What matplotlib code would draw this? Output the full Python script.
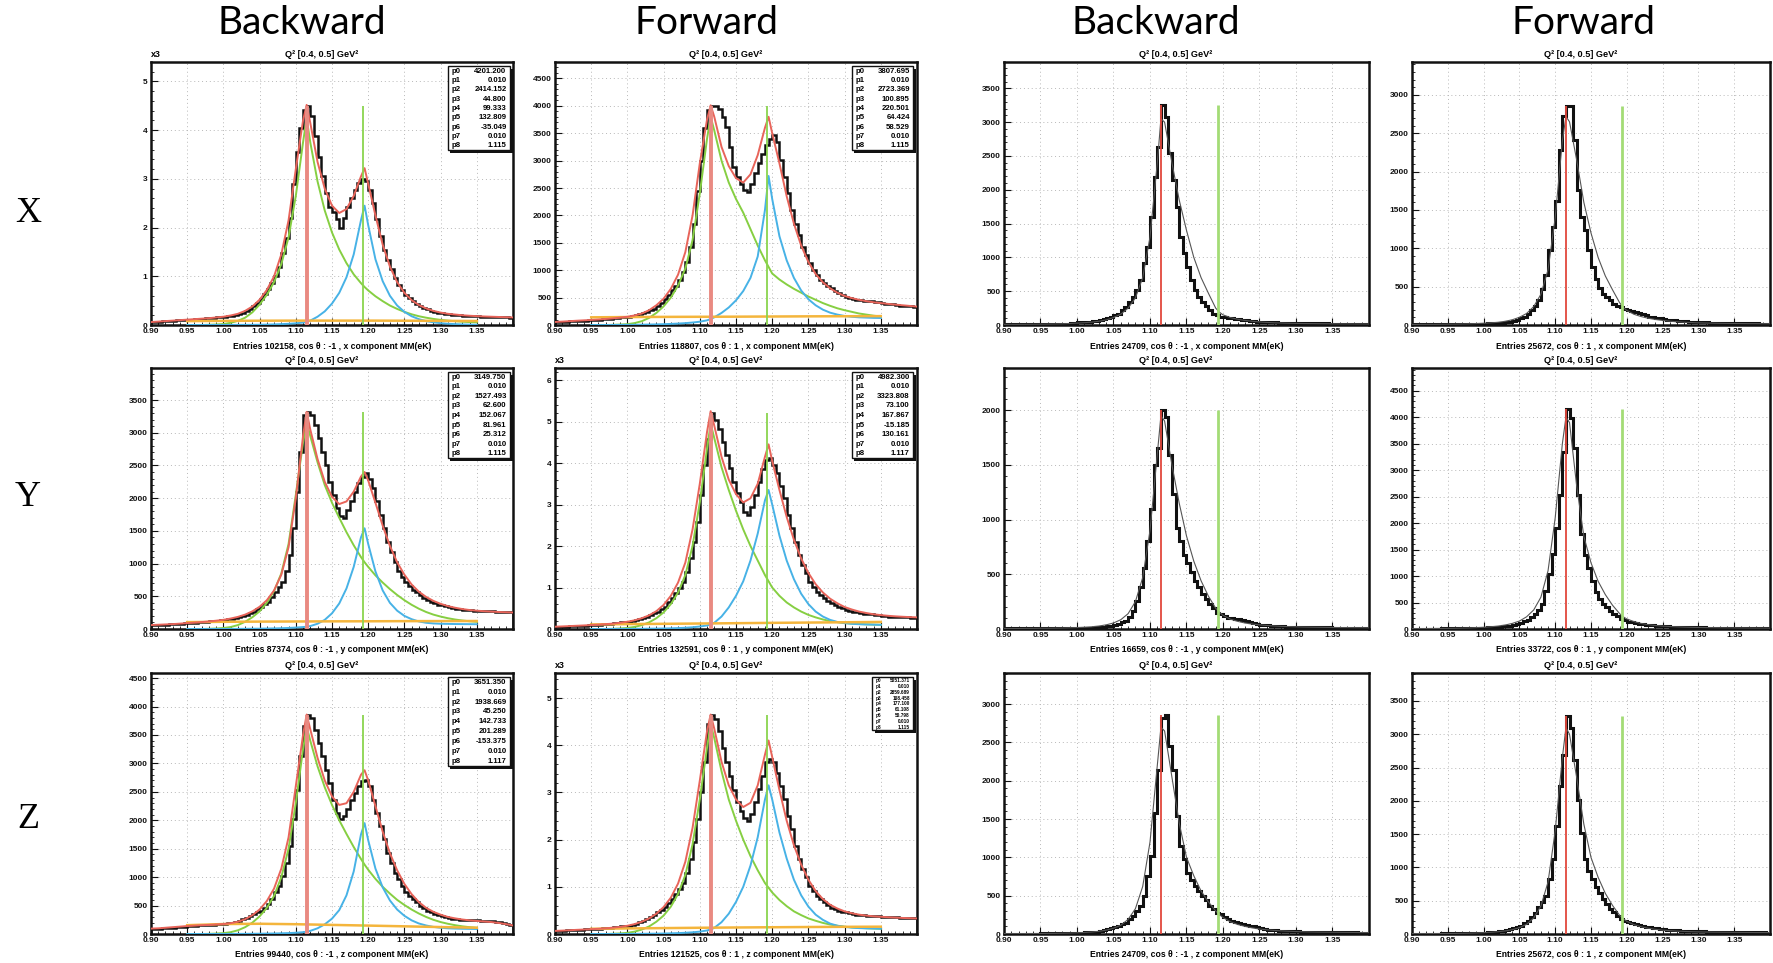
import numpy as np
import matplotlib
matplotlib.use("Agg")
import matplotlib.pyplot as plt
from matplotlib.patches import Rectangle
from matplotlib.ticker import MultipleLocator, FixedLocator, FuncFormatter

# ---------------------------------------------------------------- data
BIN_EDGES = np.round(0.9 + 0.005 * np.arange(101), 4)
FIT_X = [0.95, 0.96, 0.97, 0.98, 0.99, 1.00, 1.01, 1.02, 1.03, 1.04, 1.05, 1.06, 1.07, 1.08, 1.09, 1.10, 1.11,
         1.115, 1.12, 1.13, 1.14, 1.15, 1.16, 1.17, 1.18, 1.19, 1.195,
         1.20, 1.21, 1.22, 1.23, 1.24, 1.25, 1.26, 1.27, 1.28, 1.29, 1.30, 1.31, 1.32, 1.33, 1.34, 1.35]
RED_X = [0.90, 0.91, 0.92, 0.93, 0.94] + FIT_X + [1.36, 1.37, 1.38, 1.39, 1.40]
BKG_X = [0.95, 1.00, 1.05, 1.10, 1.15, 1.20, 1.25, 1.30, 1.35]
LAMBDA_M = 1.1157
SIGMA_M = 1.1926

COL_TITLES = ["Backward", "Forward", "Backward", "Forward"]
ROW_TITLES = ["X", "Y", "Z"]
PANEL_TITLE = "Q² [0.4, 0.5] GeV²"

# ---- row X
H11 = [60, 65, 70, 75, 80, 85, 90, 95, 100, 105,
       108, 112, 118, 122, 128, 135, 140, 148, 155, 162,
       170, 178, 188, 200, 220, 250, 290, 330, 380, 450,
       540, 630, 730, 860, 1000, 1200, 1470, 1780, 2200, 2900,
       3550, 4050, 4420, 4500, 4300, 3880, 3450, 3050, 2700, 2430,
       2320, 2180, 2000, 2200, 2420, 2600, 2780, 2920, 2990, 2960,
       2780, 2500, 2170, 1820, 1540, 1340, 1140, 970, 830, 720,
       620, 550, 490, 440, 390, 350, 320, 295, 270, 250,
       240, 230, 220, 210, 205, 200, 195, 190, 185, 180,
       175, 172, 170, 168, 165, 163, 160, 158, 155, 152]
RED11 = [60, 70, 80, 90, 100,
         110, 120, 130, 140, 155, 170, 195, 230, 290, 380, 520, 720, 1000, 1450, 2150, 3200, 4200,
         4520, 4150, 3350, 2800, 2450, 2300, 2380, 2650, 3050, 3220,
         2900, 2250, 1650, 1200, 880, 660, 510, 410, 340, 290, 255, 230, 215, 200, 190, 182,
         175, 170, 165, 160, 155]
GREEN11 = [0, 0, 0, 5, 10, 20, 45, 85, 150, 260, 420, 620, 880, 1250, 1800, 2650, 3750,
           4250, 3750, 2950, 2350, 1900, 1550, 1270, 1040, 860, 780,
           710, 590, 490, 400, 330, 270, 220, 180, 150, 125, 105, 90, 78, 68, 60, 55]
BLUE11 = [0, 0, 0, 1, 1, 2, 2, 3, 3, 4, 5, 8, 12, 18, 25, 35, 50,
          60, 90, 170, 280, 440, 660, 980, 1450, 2150, 2450,
          2050, 1350, 900, 600, 400, 270, 180, 120, 80, 55, 38, 26, 18, 12, 8, 5]
BKG11 = [80, 85, 88, 90, 90, 90, 88, 85, 82]
P11 = ["4201.200", "0.010", "2414.152", "44.800", "99.333", "132.809", "-35.049", "0.010", "1.115"]

H12 = [55, 58, 60, 62, 65, 68, 72, 76, 80, 85,
       90, 95, 100, 105, 110, 118, 125, 132, 140, 148,
       155, 165, 178, 192, 210, 235, 265, 300, 345, 400,
       470, 545, 630, 720, 830, 970, 1150, 1430, 1850, 2450,
       3000, 3600, 3920, 4000, 4000, 3950, 3800, 3620, 3250, 2890,
       2700, 2580, 2460, 2430, 2580, 2770, 2950, 3130, 3280, 3400,
       3460, 3340, 3010, 2700, 2400, 2100, 1850, 1640, 1430, 1280,
       1125, 1010, 910, 830, 760, 710, 670, 625, 580, 550,
       520, 500, 480, 465, 455, 445, 435, 430, 425, 420,
       400, 390, 385, 375, 365, 355, 350, 345, 340, 335]
RED12 = [55, 62, 70, 78, 85,
         92, 100, 110, 120, 135, 150, 175, 210, 270, 360, 480, 660, 920, 1330, 2000, 2950, 3750,
         4010, 3800, 3250, 2900, 2680, 2600, 2750, 3100, 3600, 3800,
         3500, 2950, 2350, 1850, 1450, 1150, 930, 780, 670, 590, 530, 490, 460, 435, 415, 400,
         385, 372, 360, 348, 335]
GREEN12 = [0, 0, 0, 3, 8, 15, 35, 70, 130, 220, 340, 500, 720, 1030, 1550, 2400, 3400,
           3800, 3550, 3000, 2600, 2300, 2050, 1750, 1450, 1180, 1060,
           940, 830, 740, 660, 590, 520, 460, 400, 350, 305, 270, 240, 210, 190, 170, 155]
BLUE12 = [0, 0, 0, 1, 2, 3, 4, 6, 8, 11, 15, 20, 26, 34, 45, 60, 85,
          110, 140, 220, 320, 450, 620, 860, 1250, 2100, 2720,
          2300, 1620, 1180, 860, 630, 470, 360, 280, 225, 190, 165, 150, 140, 135, 130, 128]
BKG12 = [140, 145, 148, 150, 152, 155, 158, 160, 162]
P12 = ["3807.695", "0.010", "2723.369", "100.895", "220.501", "64.424", "58.529", "0.010", "1.115"]

H13 = [10, 10, 10, 10, 12, 12, 12, 12, 12, 12,
       14, 14, 15, 15, 16, 18, 20, 22, 25, 30,
       38, 42, 45, 50, 55, 60, 70, 85, 105, 125,
       150, 170, 220, 270, 345, 420, 520, 665, 910, 1160,
       1600, 2190, 2640, 3250, 3080, 2540, 2140, 1750, 1300, 1060,
       860, 665, 520, 420, 345, 280, 220, 170, 150, 125,
       118, 110, 102, 95, 85, 75, 68, 60, 55, 50,
       47, 44, 42, 40, 37, 35, 33, 31, 30, 30,
       28, 27, 26, 25, 25, 24, 24, 23, 23, 22,
       22, 21, 21, 20, 20, 20, 19, 19, 18, 18]
THIN13 = [10, 10, 10, 11, 12,
          13, 14, 16, 18, 22, 28, 34, 42, 55, 75, 110, 160, 250, 400, 700, 1300, 2400,
          3050, 3000, 2400, 1850, 1400, 1000, 700, 470, 250, 190,
          150, 110, 85, 68, 55, 45, 38, 33, 29, 26, 24, 22, 21, 20, 19, 18,
          17, 17, 16, 16, 15]

H14 = [8, 8, 8, 8, 8, 9, 9, 9, 10, 10,
       10, 11, 11, 12, 12, 13, 13, 14, 15, 16,
       18, 20, 22, 25, 28, 32, 38, 45, 55, 70,
       95, 110, 140, 190, 250, 330, 470, 650, 980, 1280,
       1620, 2280, 2720, 2860, 2860, 2410, 1760, 1410, 1240, 980,
       760, 600, 480, 410, 360, 320, 280, 250, 230, 215,
       200, 185, 170, 155, 140, 125, 110, 100, 90, 85,
       75, 70, 65, 60, 55, 52, 48, 45, 42, 40,
       38, 36, 34, 32, 30, 29, 28, 27, 26, 25,
       24, 23, 22, 21, 21, 20, 20, 19, 19, 18]
THIN14 = [8, 8, 9, 9, 10,
          11, 12, 14, 16, 19, 23, 28, 35, 48, 68, 100, 150, 240, 400, 720, 1400, 2400,
          2720, 2650, 2150, 1600, 1200, 880, 640, 460, 290, 230,
          190, 140, 110, 88, 72, 60, 50, 42, 36, 32, 28, 26, 24, 22, 21, 20,
          19, 18, 18, 17, 17]

# ---- row Y
H21 = [55, 58, 60, 63, 66, 70, 73, 77, 80, 85,
       90, 94, 98, 102, 106, 110, 115, 120, 125, 132,
       140, 150, 160, 172, 186, 200, 218, 240, 265, 300,
       340, 380, 420, 490, 570, 640, 720, 880, 1130, 1540,
       2100, 2710, 3270, 3320, 3270, 3120, 2915, 2710, 2510, 2250,
       2050, 1845, 1720, 1700, 1820, 1950, 2100, 2230, 2330, 2380,
       2300, 2150, 1950, 1740, 1540, 1335, 1180, 1030, 880, 800,
       720, 660, 600, 560, 520, 480, 445, 415, 390, 370,
       360, 345, 330, 320, 310, 300, 295, 290, 285, 280,
       278, 275, 272, 270, 268, 266, 264, 262, 260, 258]
RED21 = [60, 65, 70, 75, 82,
         90, 98, 106, 115, 127, 140, 160, 185, 220, 270, 340, 440, 590, 830, 1250, 2000, 2950,
         3320, 3050, 2600, 2250, 2020, 1910, 1950, 2100, 2330, 2400,
         2270, 1930, 1580, 1270, 1020, 830, 680, 570, 490, 430, 385, 350, 325, 305, 290, 280,
         272, 266, 260, 256, 252]
GREEN21 = [0, 0, 0, 3, 7, 15, 30, 60, 110, 180, 270, 400, 580, 850, 1300, 2050, 2850,
           3150, 2950, 2550, 2200, 1930, 1700, 1480, 1280, 1100, 1020,
           950, 820, 710, 610, 520, 440, 370, 310, 260, 220, 190, 165, 145, 130, 118, 110]
BLUE21 = [0, 0, 0, 0, 1, 1, 2, 2, 3, 4, 5, 7, 9, 12, 16, 22, 30,
          35, 45, 80, 140, 240, 390, 620, 950, 1400, 1540,
          1300, 880, 590, 400, 280, 200, 150, 115, 95, 85, 80, 78, 76, 75, 74, 73]
BKG21 = [105, 110, 113, 115, 117, 118, 120, 121, 122]
P21 = ["3149.750", "0.010", "1527.493", "62.600", "152.067", "81.961", "25.312", "0.010", "1.115"]

H22 = [50, 53, 56, 60, 63, 67, 72, 77, 82, 88,
       95, 100, 106, 112, 120, 128, 137, 147, 158, 168,
       178, 195, 215, 235, 258, 290, 330, 375, 420, 480,
       540, 640, 740, 860, 980, 1140, 1380, 1700, 2100, 2590,
       3230, 3950, 4590, 5200, 5030, 4830, 4510, 4190, 3870, 3550,
       3270, 3070, 2830, 2750, 2950, 3230, 3550, 3850, 4080, 4110,
       3950, 3750, 3450, 3150, 2750, 2430, 2100, 1780, 1540, 1340,
       1140, 1020, 900, 820, 740, 680, 620, 580, 540, 500,
       460, 440, 420, 400, 380, 370, 360, 350, 340, 330,
       320, 310, 300, 295, 290, 285, 280, 278, 276, 274]
RED22 = [55, 62, 70, 78, 86,
         95, 105, 117, 130, 150, 175, 210, 260, 330, 430, 580, 800, 1120, 1600, 2400, 3500, 4750,
         5250, 4900, 4150, 3600, 3250, 3050, 3150, 3500, 4150, 4450,
         4050, 3350, 2700, 2150, 1700, 1350, 1080, 880, 730, 620, 530, 470, 420, 385, 355, 335,
         318, 305, 295, 287, 280]
GREEN22 = [0, 0, 0, 5, 12, 25, 50, 95, 160, 260, 400, 600, 880, 1300, 2000, 3050, 4350,
           4950, 4600, 3900, 3350, 2850, 2400, 2000, 1650, 1300, 1150,
           1000, 800, 640, 520, 420, 340, 280, 230, 190, 165, 145, 130, 120, 112, 106, 100]
BLUE22 = [0, 0, 1, 1, 2, 3, 4, 5, 7, 9, 12, 16, 22, 30, 42, 60, 85,
          110, 150, 300, 520, 800, 1150, 1650, 2300, 3100, 3350,
          3000, 2250, 1650, 1200, 850, 600, 420, 300, 220, 170, 140, 125, 115, 110, 105, 100]
BKG22 = [110, 118, 125, 132, 140, 148, 155, 162, 170]
P22 = ["4982.300", "0.010", "3323.808", "73.100", "167.867", "-15.185", "130.161", "0.010", "1.117"]

H23 = [5, 5, 5, 5, 5, 5, 5, 5, 5, 5,
       5, 6, 6, 6, 6, 7, 7, 7, 8, 8,
       9, 10, 11, 12, 13, 15, 17, 20, 25, 30,
       40, 50, 62, 75, 110, 165, 260, 380, 560, 800,
       1100, 1500, 1650, 2000, 1940, 1590, 1230, 925, 800, 680,
       600, 520, 440, 380, 320, 270, 230, 190, 150, 135,
       120, 105, 100, 95, 90, 80, 70, 60, 52, 45,
       40, 36, 33, 30, 28, 26, 24, 22, 21, 20,
       19, 18, 17, 17, 16, 16, 15, 15, 14, 14,
       13, 13, 12, 12, 12, 11, 11, 11, 10, 10]
THIN23 = [5, 5, 5, 6, 6,
          7, 7, 8, 9, 11, 13, 16, 20, 27, 38, 55, 85, 140, 250, 470, 900, 1600,
          1950, 1900, 1500, 1150, 850, 620, 440, 300, 190, 155,
          125, 90, 70, 55, 45, 38, 32, 28, 24, 22, 20, 18, 17, 16, 15, 14,
          13, 13, 12, 12, 11]

H24 = [8, 8, 8, 8, 8, 9, 9, 9, 10, 10,
       11, 11, 12, 12, 13, 14, 15, 17, 20, 25,
       28, 30, 33, 37, 42, 48, 55, 65, 80, 100,
       120, 150, 175, 220, 280, 360, 470, 720, 1030, 1410,
       1910, 2540, 3350, 4150, 3980, 3420, 2540, 1790, 1400, 1160,
       900, 700, 565, 480, 410, 345, 280, 240, 190, 165,
       140, 125, 112, 100, 90, 82, 75, 68, 63, 58,
       54, 50, 47, 44, 42, 40, 38, 36, 34, 32,
       30, 29, 28, 27, 26, 25, 24, 23, 22, 21,
       21, 20, 20, 19, 19, 18, 18, 17, 17, 16]
THIN24 = [8, 8, 9, 10, 11,
          12, 14, 17, 20, 26, 33, 42, 55, 75, 105, 150, 230, 360, 600, 1100, 2100, 3500,
          4000, 3900, 2700, 1750, 1250, 900, 650, 450, 290, 230,
          190, 140, 105, 82, 66, 55, 47, 41, 36, 32, 29, 27, 25, 23, 22, 21,
          20, 19, 18, 18, 17]

# ---- row Z
H31 = [88, 92, 96, 100, 104, 108, 112, 116, 120, 125,
       140, 145, 148, 150, 155, 158, 162, 165, 170, 172,
       175, 185, 200, 215, 235, 260, 290, 320, 350, 380,
       410, 460, 525, 620, 730, 850, 1020, 1255, 1550, 2015,
       2540, 3125, 3650, 3855, 3800, 3590, 3360, 3125, 2890, 2660,
       2365, 2130, 2015, 2075, 2190, 2365, 2480, 2600, 2690, 2700,
       2600, 2365, 2130, 1900, 1665, 1430, 1255, 1080, 965, 850,
       730, 670, 615, 560, 500, 455, 410, 380, 350, 330,
       310, 295, 280, 270, 262, 255, 250, 245, 242, 240,
       238, 235, 232, 228, 222, 215, 205, 190, 170, 150]
RED31 = [95, 100, 110, 120, 130,
         140, 148, 155, 160, 168, 175, 190, 215, 260, 330, 430, 580, 800, 1150, 1700, 2600, 3500,
         3860, 3600, 3100, 2700, 2420, 2270, 2300, 2500, 2800, 2880,
         2700, 2250, 1800, 1420, 1120, 880, 700, 560, 460, 390, 340, 300, 275, 255, 240, 230,
         220, 210, 195, 175, 150]
GREEN31 = [0, 0, 0, 3, 8, 15, 32, 65, 120, 200, 310, 460, 670, 1000, 1500, 2300, 3250,
           3650, 3400, 2950, 2580, 2270, 2000, 1760, 1530, 1320, 1220,
           1130, 970, 830, 710, 600, 510, 430, 360, 300, 250, 210, 180, 155, 135, 120, 110]
BLUE31 = [0, 0, 0, 0, 1, 1, 2, 2, 3, 4, 5, 7, 9, 12, 16, 22, 32,
          40, 55, 100, 170, 270, 420, 680, 1100, 1750, 1950,
          1650, 1150, 820, 590, 430, 320, 240, 185, 150, 125, 110, 100, 95, 92, 90, 88]
BKG31 = [155, 175, 180, 172, 160, 148, 135, 122, 110]
P31 = ["3651.350", "0.010", "1938.669", "45.250", "142.733", "201.289", "-153.375", "0.010", "1.117"]

H32 = [65, 68, 72, 76, 80, 84, 88, 92, 97, 102,
       105, 110, 116, 122, 128, 135, 142, 150, 160, 168,
       175, 195, 220, 250, 280, 315, 350, 400, 460, 510,
       565, 650, 740, 850, 950, 1090, 1300, 1580, 1940, 2430,
       3000, 3650, 4450, 4650, 4550, 4300, 3950, 3650, 3350, 3050,
       2800, 2600, 2450, 2400, 2550, 2800, 3080, 3350, 3650, 3700,
       3650, 3420, 3130, 2850, 2500, 2220, 1870, 1580, 1370, 1200,
       1020, 910, 810, 740, 670, 610, 560, 520, 490, 475,
       460, 440, 425, 410, 400, 395, 390, 385, 380, 375,
       370, 365, 360, 355, 350, 345, 340, 335, 332, 330]
RED32 = [65, 72, 80, 88, 95,
         102, 110, 120, 135, 150, 175, 210, 260, 330, 430, 570, 770, 1070, 1530, 2250, 3250, 4300,
         4650, 4350, 3650, 3150, 2850, 2690, 2780, 3150, 3800, 4100,
         3750, 3050, 2400, 1880, 1470, 1150, 910, 740, 620, 540, 480, 440, 410, 390, 375, 365,
         355, 348, 340, 335, 330]
GREEN32 = [0, 0, 0, 5, 12, 25, 50, 95, 160, 260, 390, 580, 850, 1250, 1900, 2850, 3950,
           4450, 4150, 3450, 2850, 2400, 2000, 1650, 1350, 1080, 980,
           880, 720, 590, 480, 400, 330, 280, 235, 200, 175, 155, 140, 130, 122, 116, 110]
BLUE32 = [0, 0, 0, 1, 1, 2, 3, 4, 6, 8, 10, 14, 19, 26, 36, 50, 75,
          95, 130, 250, 430, 680, 1000, 1450, 2050, 2850, 3150,
          2850, 2150, 1600, 1150, 820, 580, 410, 300, 220, 175, 150, 135, 125, 120, 116, 112]
BKG32 = [110, 118, 125, 132, 138, 143, 148, 152, 155]
P32 = ["5051.371", "0.010", "2859.689", "108.458", "177.100", "61.108", "50.798", "0.010", "1.115"]

H33 = [5, 5, 5, 5, 5, 5, 6, 6, 6, 6,
       7, 7, 7, 8, 8, 9, 10, 11, 12, 14,
       16, 18, 20, 22, 26, 32, 40, 50, 62, 75,
       87, 105, 125, 150, 190, 240, 300, 370, 500, 760,
       1020, 1580, 2140, 2815, 2860, 2450, 2140, 1540, 1150, 975,
       800, 700, 630, 560, 500, 440, 370, 320, 280, 260,
       220, 190, 175, 160, 145, 130, 120, 110, 100, 85,
       75, 65, 56, 52, 48, 45, 42, 40, 38, 36,
       34, 32, 31, 30, 29, 28, 27, 26, 25, 24,
       24, 23, 22, 22, 21, 20, 20, 19, 19, 18]
THIN33 = [5, 5, 5, 6, 6,
          7, 8, 9, 11, 13, 16, 20, 26, 35, 50, 75, 115, 190, 330, 620, 1200, 2200,
          2700, 2650, 2050, 1450, 1000, 760, 560, 420, 300, 255,
          215, 160, 125, 100, 80, 65, 55, 47, 41, 36, 32, 29, 27, 25, 24, 23,
          22, 21, 20, 19, 18]

H34 = [6, 6, 6, 6, 6, 7, 7, 7, 8, 8,
       9, 9, 10, 10, 11, 12, 13, 14, 16, 18,
       22, 26, 30, 35, 42, 50, 60, 70, 85, 105,
       125, 160, 200, 250, 320, 400, 480, 570, 820, 1120,
       1620, 2220, 2690, 3280, 3090, 2610, 2020, 1520, 1120, 950,
       820, 700, 620, 530, 450, 380, 325, 270, 230, 200,
       175, 160, 150, 135, 120, 110, 100, 92, 85, 78,
       72, 66, 62, 58, 55, 52, 49, 46, 44, 42,
       40, 38, 36, 35, 34, 33, 32, 31, 30, 29,
       28, 27, 26, 26, 25, 24, 24, 23, 23, 22]
THIN34 = [6, 6, 6, 7, 7,
          8, 9, 11, 13, 16, 20, 26, 34, 46, 65, 95, 145, 240, 420, 780, 1550, 2650,
          3100, 3000, 2350, 1650, 1150, 850, 610, 430, 280, 230,
          190, 140, 108, 86, 70, 58, 50, 44, 39, 35, 32, 30, 28, 27, 26, 25,
          24, 23, 22, 22, 21]

ENTRIES = [
    ["Entries 102158, cos θ : -1 , x component MM(eK)", "Entries 118807, cos θ : 1 , x component MM(eK)",
     "Entries 24709, cos θ : -1 , x component MM(eK)", "Entries 25672, cos θ : 1 , x component MM(eK)"],
    ["Entries 87374, cos θ : -1 , y component MM(eK)", "Entries 132591, cos θ : 1 , y component MM(eK)",
     "Entries 16659, cos θ : -1 , y component MM(eK)", "Entries 33722, cos θ : 1 , y component MM(eK)"],
    ["Entries 99440, cos θ : -1 , z component MM(eK)", "Entries 121525, cos θ : 1 , z component MM(eK)",
     "Entries 24709, cos θ : -1 , z component MM(eK)", "Entries 25672, cos θ : 1 , z component MM(eK)"],
]
YMAX = [[5400, 4800, 3890, 3430],
        [3990, 6290, 2385, 4930],
        [4590, 5530, 3407, 3920]]
X3 = [[True, False, False, False],
      [False, True, False, False],
      [False, True, False, False]]

# ---------------------------------------------------------------- layout
W, H = 1774, 963
COL_PX = [(151, 513), (555, 917), (1004, 1369), (1412, 1770)]
ROW_PX = [(62, 325), (368, 629), (673, 934)]
COL_TITLE_X = [302, 706, 1156, 1584]
ROW_TITLE_Y = [213, 498, 820]

C_RED = "#e8645a"
C_GREEN = "#86cf42"
C_BLUE = "#47b2e6"
C_ORANGE = "#f4b53c"

plt.rcParams["font.family"] = ["Liberation Sans", "DejaVu Sans"]
plt.rcParams["font.weight"] = "bold"

fig = plt.figure(figsize=(W / 100, H / 100), dpi=100)
fig.patch.set_facecolor("white")


def make_ax(r, c):
    x0, x1 = COL_PX[c]
    y0, y1 = ROW_PX[r]
    return fig.add_axes([x0 / W, 1 - y1 / H, (x1 - x0) / W, (y1 - y0) / H])


def style(ax, r, c):
    ymax = YMAX[r][c]
    x3 = X3[r][c]
    ax.set_xlim(0.9, 1.4)
    ax.set_ylim(0, ymax)
    ax.xaxis.set_major_locator(FixedLocator([0.90, 0.95, 1.00, 1.05, 1.10, 1.15, 1.20, 1.25, 1.30, 1.35]))
    ax.xaxis.set_major_formatter(FuncFormatter(lambda v, p: f"{v:.2f}"))
    ax.xaxis.set_minor_locator(MultipleLocator(0.01))
    step = 1000 if x3 else 500
    ax.yaxis.set_major_locator(MultipleLocator(step))
    ax.yaxis.set_minor_locator(MultipleLocator(step / 5))
    if x3:
        ax.yaxis.set_major_formatter(FuncFormatter(lambda v, p: f"{v / 1000:.0f}"))
        ax.text(0.0, 1.012, "x3", transform=ax.transAxes, ha="left", va="bottom", fontsize=6.4)
    else:
        ax.yaxis.set_major_formatter(FuncFormatter(lambda v, p: f"{v:.0f}"))
    ax.tick_params(which="both", direction="in", top=False, right=False, labelsize=6.0, colors="#111")
    ax.tick_params(which="major", length=5, width=0.8, pad=2.5)
    ax.tick_params(which="minor", length=2.5, width=0.6)
    ax.grid(True, which="major", color="#b8b8b8", lw=0.7, ls=(0, (1, 3)))
    for s in ax.spines.values():
        s.set_linewidth(1.8)
        s.set_color("#111")
    ax.text(0.47, 1.012, PANEL_TITLE, transform=ax.transAxes, ha="center", va="bottom", fontsize=6.6)
    ax.text(0.5, -0.08, ENTRIES[r][c], transform=ax.transAxes, ha="center", va="center", fontsize=6.2)


def param_box(ax, vals, x0, x1, y0, y1, fs):
    ax.add_patch(Rectangle((x0 + 0.007, y0 - 0.011), x1 - x0, y1 - y0, transform=ax.transAxes,
                           facecolor="#111", edgecolor="none", zorder=9, clip_on=False))
    ax.add_patch(Rectangle((x0, y0), x1 - x0, y1 - y0, transform=ax.transAxes,
                           facecolor="white", edgecolor="#111", lw=1.0, zorder=10))
    n = len(vals)
    dy = (y1 - y0) / n
    for i, v in enumerate(vals):
        yy = y1 - (i + 0.55) * dy
        ax.text(x0 + 0.01, yy, f"p{i}", transform=ax.transAxes, ha="left", va="center",
                fontsize=fs, zorder=11)
        ax.text(x1 - 0.01, yy, v, transform=ax.transAxes, ha="right", va="center",
                fontsize=fs, zorder=11)


LEFT = [
    (0, 0, H11, RED11, GREEN11, BLUE11, BKG11, P11, (0.82, 0.992, 0.665, 0.985), 5.6),
    (0, 1, H12, RED12, GREEN12, BLUE12, BKG12, P12, (0.82, 0.99, 0.665, 0.985), 5.6),
    (1, 0, H21, RED21, GREEN21, BLUE21, BKG21, P21, (0.82, 0.992, 0.655, 0.985), 5.6),
    (1, 1, H22, RED22, GREEN22, BLUE22, BKG22, P22, (0.82, 0.99, 0.655, 0.985), 5.6),
    (2, 0, H31, RED31, GREEN31, BLUE31, BKG31, P31, (0.82, 0.992, 0.645, 0.985), 5.6),
    (2, 1, H32, RED32, GREEN32, BLUE32, BKG32, P32, (0.876, 0.99, 0.78, 0.985), 3.4),
]
RIGHT = [
    (0, 2, H13, THIN13), (0, 3, H14, THIN14),
    (1, 2, H23, THIN23), (1, 3, H24, THIN24),
    (2, 2, H33, THIN33), (2, 3, H34, THIN34),
]

for r, c, hist, red, green, blue, bkg, pars, box, fs in LEFT:
    ax = make_ax(r, c)
    style(ax, r, c)
    hmax = max(hist)
    ax.stairs(hist, BIN_EDGES, color="#111", lw=1.8, zorder=3)
    ax.plot(FIT_X, green, color=C_GREEN, lw=1.4, zorder=4)
    ax.plot(FIT_X, blue, color=C_BLUE, lw=1.4, zorder=4)
    ax.plot(BKG_X, bkg, color=C_ORANGE, lw=1.8, zorder=4)
    ax.plot(RED_X, red, color=C_RED, lw=1.4, zorder=5)
    ax.vlines(LAMBDA_M, 0, hmax, color="#e98a82", lw=2.8, zorder=6)
    ax.vlines(SIGMA_M, 0, hmax, color="#8ad44e", lw=1.3, zorder=6)
    param_box(ax, pars, *box, fs)

for r, c, hist, thin in RIGHT:
    ax = make_ax(r, c)
    style(ax, r, c)
    hmax = max(hist)
    ax.stairs(hist, BIN_EDGES, color="#111", lw=2.2, zorder=3)
    ax.plot(RED_X, thin, color="#555555", lw=0.8, zorder=4)
    ax.vlines(LAMBDA_M, 0, hmax, color="#e2483d", lw=1.3, zorder=5)
    ax.vlines(SIGMA_M, 0, hmax, color="#a3dc76", lw=2.0, zorder=5)

for x, t in zip(COL_TITLE_X, COL_TITLES):
    fig.text(x / W, 1 - 23 / H, t, family=["Lato", "DejaVu Sans"], fontweight="normal",
             fontsize=28, ha="center", va="center")
for y, t in zip(ROW_TITLE_Y, ROW_TITLES):
    fig.text(28 / W, 1 - y / H, t, family=["Liberation Serif", "DejaVu Serif"], fontweight="normal",
             fontsize=26, ha="center", va="center")

fig.savefig("out.png", dpi=100, facecolor="white")
